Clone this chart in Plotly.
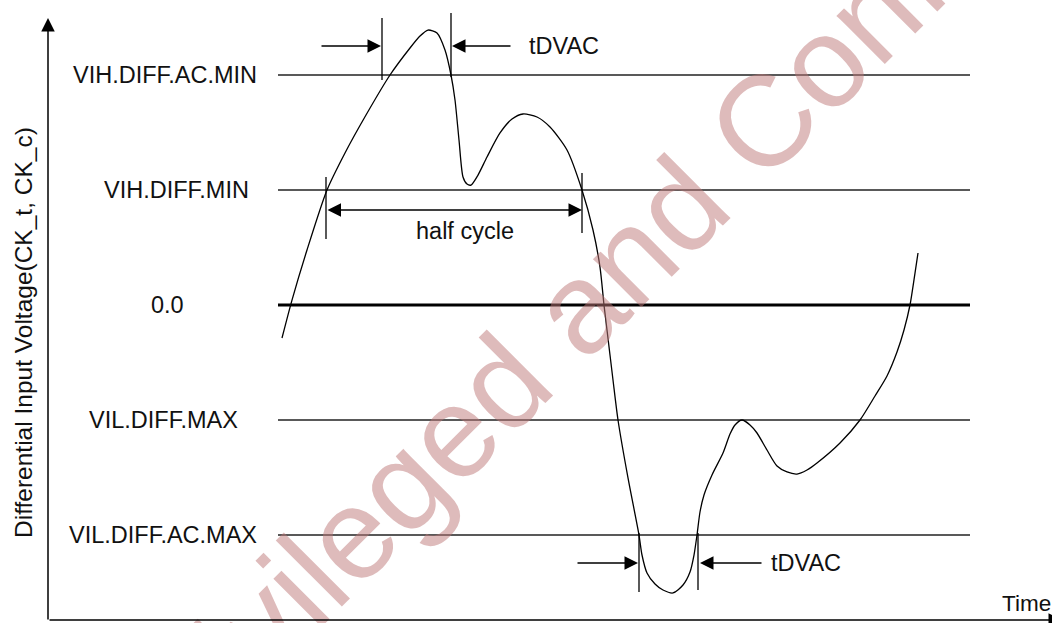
import plotly.graph_objects as go

# ---------------- data ----------------
# time in arbitrary units, voltage in units of threshold steps
time = [282, 292, 307, 327, 345, 366, 390, 410, 420, 428, 437, 445, 451, 455, 459, 463,
        467, 471, 478, 487, 500, 512, 523, 537, 550, 567, 582, 593, 600, 604, 607, 613,
        618, 628, 639, 642, 647, 655, 663, 673, 683, 690, 694, 697, 700, 704, 712, 723,
        730, 735, 742, 750, 757, 767, 777, 787, 797, 807, 817, 840, 860, 875, 887, 897,
        904, 910, 915, 918]
voltage = [-0.287, 0.043, 0.478, 1.0, 1.322, 1.652, 2.0, 2.235, 2.339, 2.391, 2.365, 2.217,
           2.0, 1.783, 1.435, 1.113, 1.052, 1.043, 1.13, 1.287, 1.496, 1.617, 1.661, 1.635,
           1.548, 1.348, 1.0, 0.652, 0.330, 0.0, -0.217, -0.652, -1.0, -1.504, -2.0, -2.174,
           -2.330, -2.426, -2.478, -2.504, -2.435, -2.322, -2.174, -2.0, -1.8, -1.652, -1.478,
           -1.287, -1.122, -1.043, -1.0, -1.043, -1.113, -1.261, -1.4, -1.452, -1.47, -1.435,
           -1.374, -1.2, -1.0, -0.791, -0.617, -0.409, -0.217, 0.0, 0.278, 0.452]

level_names = ["VIH.DIFF.AC.MIN", "VIH.DIFF.MIN", "0.0", "VIL.DIFF.MAX", "VIL.DIFF.AC.MAX"]
level_values = [2, 1, 0, -1, -2]

y_title = "Differential Input Voltage(CK_t, CK_c)"
x_title = "Time"
watermark = "Privileged and Confidential"

# ---------------- layout helpers ----------------
W, H = 1052, 623
Y_TOP, Y_BOT = 2.6522, -2.7652


def vy(p):
    """pixel row -> voltage units"""
    return Y_TOP - p * (Y_TOP - Y_BOT) / H


FONT = "Liberation Sans, Arial, sans-serif"
TXT = "#111111"

fig = go.Figure()
fig.add_trace(go.Scatter(x=time, y=voltage, mode="lines",
                         line=dict(color="black", width=1.3, shape="spline", smoothing=0.7),
                         hoverinfo="skip", showlegend=False))

shapes = []
for v in level_values:
    shapes.append(dict(type="line", xref="x", yref="y", x0=278, x1=970, y0=v, y1=v,
                       line=dict(color="#000000" if v == 0 else "#222222",
                                 width=3 if v == 0 else 1.5), layer="below"))

# vertical marker ticks
for (xx, p0, p1) in [(382, 18, 80), (451, 13, 77), (326, 177, 239), (582, 173, 233),
                     (639, 533, 592), (698, 533, 590)]:
    shapes.append(dict(type="line", xref="x", yref="y", x0=xx, x1=xx, y0=vy(p0), y1=vy(p1),
                       line=dict(color="black", width=1.3)))

annotations = []
# watermark
annotations.append(dict(x=669, y=vy(216), xref="x", yref="y", text=watermark, showarrow=False,
                        textangle=-45, font=dict(family=FONT, size=129, color="rgba(190,120,120,0.5)"),
                        xanchor="center", yanchor="middle"))

label_x = [165, 176, 167, 163, 163]
for name, v, lx in zip(level_names, level_values, label_x):
    annotations.append(dict(x=lx, y=v, xref="x", yref="y", text=name, showarrow=False,
                            font=dict(family=FONT, size=23.5, color=TXT),
                            xanchor="center", yanchor="middle"))

arrow_style = dict(showarrow=True, arrowhead=2, arrowsize=1.8, arrowwidth=1.5,
                   arrowcolor="black", axref="x", ayref="y", xref="x", yref="y",
                   standoff=0, text="")

# axes
annotations.append(dict(x=48, y=vy(18), ax=48, ay=vy(621), **arrow_style))
annotations.append(dict(x=1062, y=vy(620), ax=48, ay=vy(620), **arrow_style))
# tDVAC (top)
annotations.append(dict(x=381, y=vy(46), ax=320, ay=vy(46), **arrow_style))
annotations.append(dict(x=452, y=vy(46), ax=512, ay=vy(46), **arrow_style))
# half cycle
hc = dict(arrow_style)
hc.update(arrowside="end+start", startarrowhead=2, startarrowsize=1.8)
annotations.append(dict(x=582, y=vy(210), ax=326, ay=vy(210), **hc))
# tDVAC (bottom)
annotations.append(dict(x=638, y=vy(563), ax=576, ay=vy(563), **arrow_style))
annotations.append(dict(x=700, y=vy(563), ax=763, ay=vy(563), **arrow_style))

for txt, xx, p in [("tDVAC", 564, 46), ("half cycle", 465, 231), ("tDVAC", 806, 563)]:
    annotations.append(dict(x=xx, y=vy(p), xref="x", yref="y", text=txt, showarrow=False,
                            font=dict(family=FONT, size=23.5, color=TXT),
                            xanchor="center", yanchor="middle"))

annotations.append(dict(x=1000, y=vy(603), xref="x", yref="y", text=x_title, showarrow=False,
                        font=dict(family=FONT, size=22.5, color=TXT),
                        xanchor="left", yanchor="middle"))
annotations.append(dict(x=23, y=vy(333), xref="x", yref="y", text=y_title, showarrow=False,
                        textangle=-90, font=dict(family=FONT, size=24.5, color=TXT),
                        xanchor="center", yanchor="middle"))

fig.update_layout(
    width=W, height=H, margin=dict(l=0, r=0, t=0, b=0),
    paper_bgcolor="white", plot_bgcolor="white",
    xaxis=dict(range=[0, W], visible=False, fixedrange=True),
    yaxis=dict(range=[Y_BOT, Y_TOP], visible=False, fixedrange=True),
    shapes=shapes, annotations=annotations, showlegend=False,
)

fig.write_html("out.html", config={"displayModeBar": False},
               post_script="document.body.style.margin='0';document.body.style.overflow='hidden';")
